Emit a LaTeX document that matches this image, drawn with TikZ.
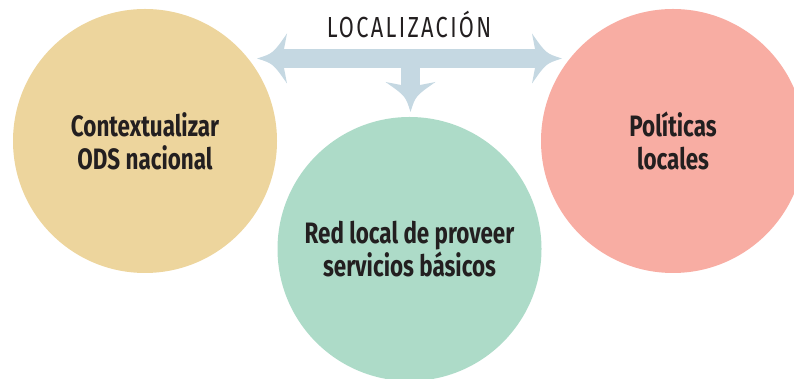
\documentclass[tikz,border=0pt]{standalone}
\usepackage{fontspec}
\setmainfont{Fira Sans}
\newfontfamily\circfont[FakeStretch=0.76]{Fira Sans}
\newfontfamily\titlefont[FakeStretch=0.75,LetterSpace=8]{Fira Sans}
\definecolor{sand}{HTML}{EDD59D}
\definecolor{mint}{HTML}{ADDBC8}
\definecolor{coral}{HTML}{F8ADA3}
\definecolor{arrowblue}{HTML}{C5D8E2}
\definecolor{ink}{HTML}{231F20}
\tikzset{
  shaft/.style = {draw=arrowblue, line width=19pt},
  tip/.pic = {\fill[arrowblue] (0,0) .. controls (-16,5) .. (-30,25) -- (-27,9.5)
    -- (-27,-9.5) -- (-30,-25) .. controls (-16,-5) .. (0,0) -- cycle;}
}
\begin{document}
\begin{tikzpicture}[x=1pt, y=1pt]
\useasboundingbox (0,0) rectangle (794,379);
\begin{scope}[every node/.style = {circle, minimum size=264pt, inner sep=0pt, align=center, text=ink, font=\circfont\bfseries\fontsize{29.5}{33}\selectfont}]
\node[fill=sand] (Ctx) at (145, 238) {Contextualizar\\ODS nacional};
\node[fill=mint] (Red) at (409.5, 130) {Red local de proveer\\servicios básicos};
\node[fill=coral] (Pol) at (673, 238) {Políticas\\locales};
\end{scope}
\node[font=\titlefont\fontsize{29}{29}\selectfont, text=ink, anchor=base] (Loc) at (409, 341) {LOCALIZACIÓN};
\coordinate (Hub) at (410.5, 320.5);
\coordinate (HubL) at (257, 320.5);
\coordinate (HubR) at (562, 320.5);
\coordinate (HubD) at (410.5, 267);
\begin{scope}
\draw[shaft, shorten <=20pt, shorten >=20pt] (HubL) -- (HubR);
\draw[shaft, shorten >=20pt] (Hub) -- (HubD);
\pic[rotate=180] at (HubL) {tip};
\pic at (HubR) {tip};
\pic[rotate=-90] at (HubD) {tip};
\end{scope}
\end{tikzpicture}
\end{document}
